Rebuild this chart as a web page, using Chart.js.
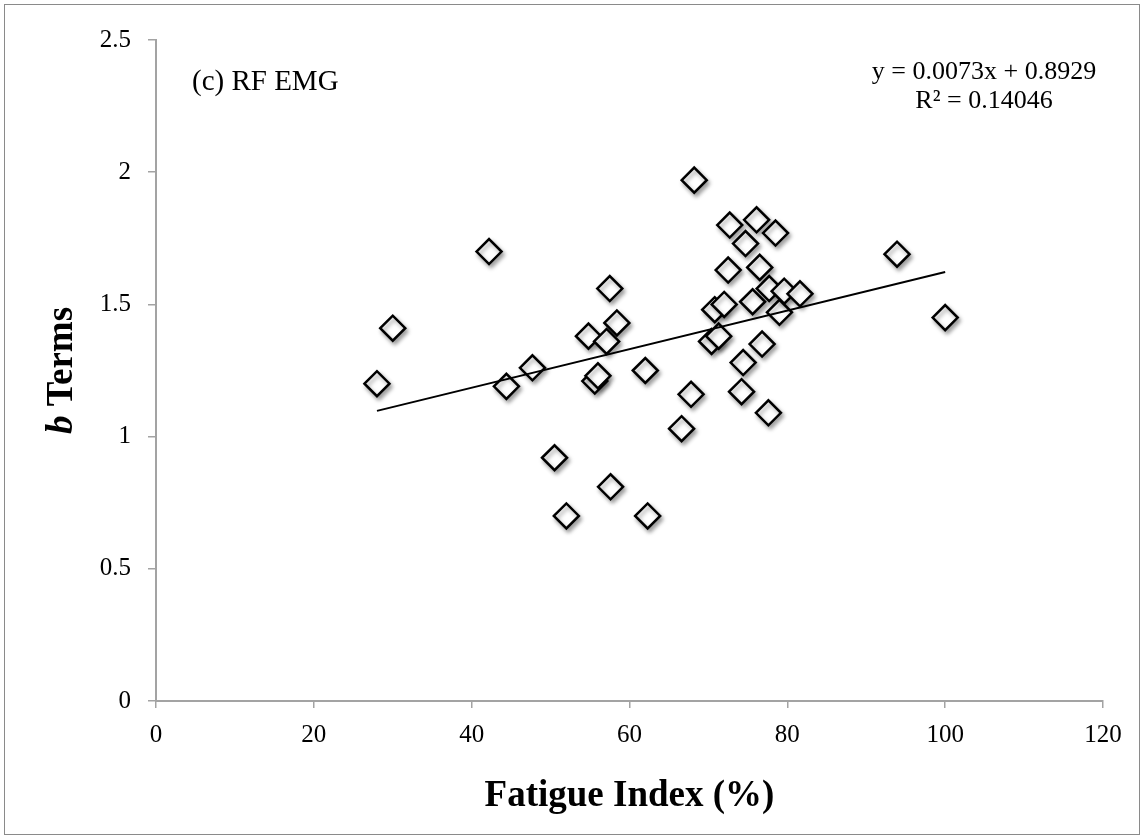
<!DOCTYPE html>
<html>
<head>
<meta charset="utf-8">
<title>RF EMG b terms vs fatigue index</title>
<script src="https://cdn.jsdelivr.net/npm/chart.js@4.4.1/dist/chart.umd.min.js"></script>
<style>
html, body { margin: 0; padding: 0; background: #fff; }
#wrap { width: 1144px; height: 839px; }
</style>
</head>
<body>
<div id="wrap"><canvas id="chart" width="1144" height="839"></canvas></div>
<script>
// Fatigue index (%) of each subject
var fatigueIndex = [28.0, 30.0, 42.2, 44.4, 47.7, 50.5, 52.0, 54.8, 55.6, 56.0,
    57.1, 57.5, 58.4, 57.6, 62.0, 62.3, 66.6, 67.8, 68.2, 70.4,
    70.8, 71.3, 72.0, 72.5, 72.7, 74.2, 74.4, 74.7, 75.6, 76.1,
    76.5, 76.8, 77.6, 77.7, 78.5, 79.0, 79.6, 81.6, 93.9, 100.0];
// b terms of RF EMG
var bTerms = [1.20, 1.41, 1.70, 1.19, 1.26, 0.92, 0.70, 1.38, 1.21, 1.23,
    1.36, 1.56, 1.43, 0.81, 1.25, 0.70, 1.03, 1.16, 1.97, 1.36,
    1.48, 1.38, 1.50, 1.63, 1.80, 1.17, 1.28, 1.73, 1.51, 1.82,
    1.64, 1.35, 1.09, 1.56, 1.77, 1.47, 1.55, 1.54, 1.69, 1.45];
var xTicks = [0, 20, 40, 60, 80, 100, 120];
var yTicks = [0, 0.5, 1, 1.5, 2, 2.5];
// linear trendline (from the chart label)
var slope = 0.0073, intercept = 0.8929, rSquared = 0.14046;
var fitRange = [28, 100];

var points = fatigueIndex.map(function (x, i) { return {x: x, y: bTerms[i]}; });
var fitLine = fitRange.map(function (x) { return {x: x, y: slope * x + intercept}; });

var serif = "'Liberation Serif', 'Times New Roman', serif";
var axisGrey = '#a3a3a3';

// white page + thin frame
var frame = {
    id: 'frame',
    beforeDraw: function (chart) {
        var ctx = chart.ctx;
        ctx.save();
        ctx.fillStyle = '#fff';
        ctx.fillRect(0, 0, chart.width, chart.height);
        ctx.strokeStyle = '#8a8a8a';
        ctx.lineWidth = 1;
        ctx.strokeRect(4.5, 4.5, chart.width - 9, chart.height - 9);
        ctx.restore();
    }
};

// soft drop shadow under the diamonds
var shadow = {
    id: 'shadow',
    beforeDatasetDraw: function (chart, args) {
        if (args.index !== 1) return;
        var ctx = chart.ctx;
        ctx.save();
        ctx.shadowColor = 'rgba(0,0,0,0.35)';
        ctx.shadowBlur = 4;
        ctx.shadowOffsetX = 2;
        ctx.shadowOffsetY = 3;
    },
    afterDatasetDraw: function (chart, args) {
        if (args.index !== 1) return;
        chart.ctx.restore();
    }
};

// y title (italic b) + panel label + equation
var texts = {
    id: 'texts',
    afterDraw: function (chart) {
        var ctx = chart.ctx;
        var area = chart.chartArea;
        ctx.save();
        ctx.fillStyle = '#000';

        // y axis title, rotated
        ctx.save();
        ctx.translate(62, (area.top + area.bottom) / 2);
        ctx.rotate(-Math.PI / 2);
        ctx.textBaseline = 'middle';
        var f1 = 'italic bold 37px ' + serif;
        var f2 = 'bold 37px ' + serif;
        ctx.font = f1;
        var w1 = ctx.measureText('b').width;
        ctx.font = f2;
        var w2 = ctx.measureText(' Terms').width;
        var start = -(w1 + w2) / 2;
        ctx.textAlign = 'left';
        ctx.font = f1;
        ctx.fillText('b', start, 0);
        ctx.font = f2;
        ctx.fillText(' Terms', start + w1, 0);
        ctx.restore();

        // panel label
        ctx.font = '29px ' + serif;
        ctx.textAlign = 'left';
        ctx.textBaseline = 'middle';
        ctx.fillText('(c) RF EMG', 192, 82);

        // trendline equation
        ctx.font = '26px ' + serif;
        ctx.textAlign = 'center';
        ctx.fillText('y = ' + slope + 'x + ' + intercept, 984, 72);
        ctx.fillText('R\u00b2 = ' + rSquared, 984, 101);
        ctx.restore();
    }
};

var ctx = document.getElementById('chart');
var chart = new Chart(ctx, {
    type: 'scatter',
    data: {
        datasets: [{
            // trendline, drawn on top of the markers
            type: 'line',
            data: fitLine,
            borderColor: '#000',
            borderWidth: 2,
            pointRadius: 0,
            fill: false
        }, {
            data: points,
            pointStyle: 'rectRot',
            pointRadius: 12.5,
            pointHoverRadius: 12.5,
            pointBorderWidth: 2.5,
            borderColor: '#000',
            backgroundColor: '#fff'
        }]
    },
    options: {
        responsive: false,
        animation: false,
        devicePixelRatio: 1,
        layout: { padding: { top: 40, right: 41, left: 0, bottom: 0 } },
        plugins: {
            legend: { display: false },
            tooltip: { enabled: false }
        },
        scales: {
            x: {
                type: 'linear',
                min: 0,
                max: 120,
                afterBuildTicks: function (scale) {
                    scale.ticks = xTicks.map(function (v) { return {value: v}; });
                },
                afterFit: function (scale) { scale.height = 138; },
                ticks: {
                    color: '#000',
                    font: { family: serif, size: 25 },
                    padding: 12,
                    maxRotation: 0,
                    callback: function (v) { return String(v); }
                },
                grid: { drawOnChartArea: false, drawTicks: true, tickLength: 7, color: axisGrey, lineWidth: 1.5 },
                border: { color: axisGrey, width: 2 },
                title: {
                    display: true,
                    text: 'Fatigue Index (%)',
                    color: '#000',
                    font: { family: serif, size: 37, weight: 'bold' },
                    padding: { top: 0, bottom: 20 }
                }
            },
            y: {
                min: 0,
                max: 2.5,
                afterBuildTicks: function (scale) {
                    scale.ticks = yTicks.map(function (v) { return {value: v}; });
                },
                afterFit: function (scale) { scale.width = 156; },
                ticks: {
                    color: '#000',
                    font: { family: serif, size: 25 },
                    padding: 17,
                    callback: function (v) { return String(v); }
                },
                grid: { drawOnChartArea: false, drawTicks: true, tickLength: 8, color: axisGrey, lineWidth: 1.5 },
                border: { color: axisGrey, width: 2 }
            }
        }
    },
    plugins: [frame, shadow, texts]
});
</script>
</body>
</html>
